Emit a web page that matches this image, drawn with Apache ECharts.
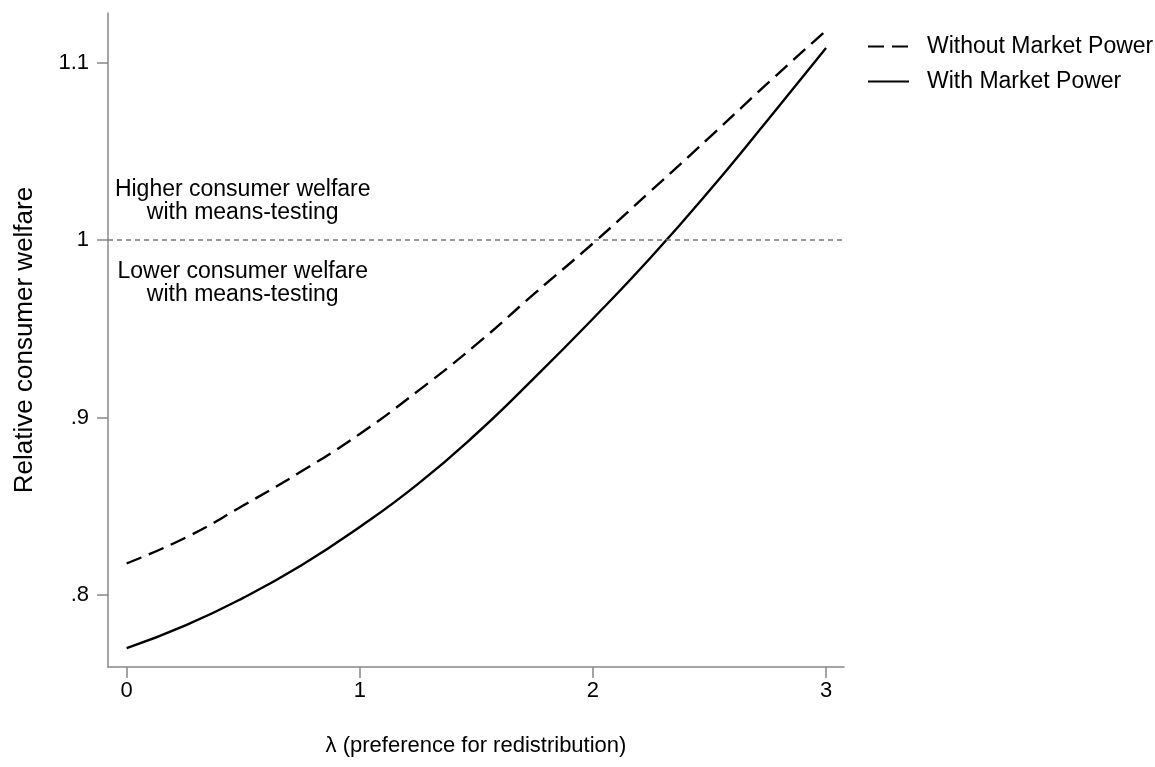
<!DOCTYPE html>
<html>
<head>
<meta charset="utf-8">
<title>Relative consumer welfare</title>
<script src="https://cdn.jsdelivr.net/npm/echarts@6/dist/echarts.min.js"></script>
<style>
  html, body { margin: 0; padding: 0; background: #fff; }
  #chart { width: 1155px; height: 767px; }
</style>
</head>
<body>
<div id="chart"></div>
<script>
// λ grid (preference for redistribution)
const lambda = [0, 0.25, 0.5, 0.75, 1, 1.25, 1.5, 1.75, 2, 2.25, 2.5, 2.75, 3];
// Relative consumer welfare, means-testing vs. universal
const withoutMarketPower = [0.8177, 0.8320, 0.8503, 0.8696, 0.8907, 0.9150, 0.9412, 0.9700, 0.9982, 1.0280, 1.0580, 1.0886, 1.1183];
const withMarketPower    = [0.7698, 0.7825, 0.7982, 0.8166, 0.8382, 0.8625, 0.8908, 0.9225, 0.9557, 0.9905, 1.0280, 1.0678, 1.1084];

const xTicks = [0, 1, 2, 3];
const xTickLabels = ['0', '1', '2', '3'];
const yTicks = [0.8, 0.9, 1, 1.1];
const yTickLabels = ['.8', '.9', '1', '1.1'];

const seriesNames = ['Without Market Power', 'With Market Power'];
const referenceLevel = 1;

// Region notes placed at data coordinates (λ, welfare)
const notes = [
  { x: 0.5, y: 1.0215, text: 'Higher consumer welfare\nwith means-testing' },
  { x: 0.5, y: 0.9755, text: 'Lower consumer welfare\nwith means-testing' }
];

const FONT = "'Liberation Sans', Arial, Helvetica, sans-serif";
const AXIS_GRAY = '#878787';
const INK = '#000';

const pairs = (xs, ys) => xs.map((x, i) => [x, ys[i]]);

const chart = echarts.init(document.getElementById('chart'), null, { renderer: 'canvas' });

chart.setOption({
  animation: false,
  backgroundColor: '#ffffff',
  textStyle: { fontFamily: FONT },
  grid: { left: 108, right: 311, top: 13, bottom: 100, containLabel: false },
  legend: {
    orient: 'vertical',
    left: 867,
    top: 35,
    padding: 0,
    itemWidth: 41,
    itemHeight: 14,
    itemGap: 12,
    data: seriesNames,
    itemStyle: { opacity: 0 },
    textStyle: { fontFamily: FONT, fontSize: 23, color: INK, padding: [0, 0, 0, 13] }
  },
  xAxis: {
    type: 'value',
    min: -0.08,
    max: 3.077,
    name: 'λ (preference for redistribution)',
    nameLocation: 'middle',
    nameGap: 68,
    nameTextStyle: { fontFamily: FONT, fontSize: 22, color: INK },
    axisLine: { show: true, onZero: false, lineStyle: { color: AXIS_GRAY, width: 1.5 } },
    axisTick: { show: true, length: 11, customValues: xTicks, lineStyle: { color: AXIS_GRAY, width: 1.5 } },
    axisLabel: {
      show: true, customValues: xTicks, margin: 13,
      fontFamily: FONT, fontSize: 22, color: INK,
      formatter: v => xTickLabels[xTicks.indexOf(v)]
    },
    splitLine: { show: false }
  },
  yAxis: {
    type: 'value',
    min: 0.7592,
    max: 1.1282,
    name: 'Relative consumer welfare',
    nameLocation: 'middle',
    nameGap: 70,
    nameTextStyle: { fontFamily: FONT, fontSize: 26, color: INK },
    axisLine: { show: true, onZero: false, lineStyle: { color: AXIS_GRAY, width: 1.5 } },
    axisTick: { show: true, length: 11, customValues: yTicks, lineStyle: { color: AXIS_GRAY, width: 1.5 } },
    axisLabel: {
      show: true, customValues: yTicks, margin: 19,
      fontFamily: FONT, fontSize: 22, color: INK,
      formatter: v => yTickLabels[yTicks.findIndex(t => Math.abs(t - v) < 1e-9)]
    },
    splitLine: { show: false }
  },
  series: [
    {
      name: seriesNames[0],
      type: 'line',
      data: pairs(lambda, withoutMarketPower),
      smooth: true,
      symbol: 'none',
      lineStyle: { color: INK, width: 2.4, type: [16, 8] },
      itemStyle: { color: INK },
      z: 3,
      markLine: {
        silent: true,
        symbol: 'none',
        label: { show: false },
        lineStyle: { color: '#777777', width: 1.5, type: [5, 4] },
        data: [{ yAxis: referenceLevel }]
      }
    },
    {
      name: seriesNames[1],
      type: 'line',
      data: pairs(lambda, withMarketPower),
      smooth: true,
      symbol: 'none',
      lineStyle: { color: INK, width: 2.4, type: 'solid' },
      itemStyle: { color: INK },
      z: 3
    },
    {
      name: 'notes',
      type: 'scatter',
      data: notes.map(n => ({ value: [n.x, n.y], label: { formatter: n.text } })),
      symbolSize: 1,
      itemStyle: { color: 'rgba(0,0,0,0)', opacity: 1 },
      silent: true,
      label: {
        show: true,
        position: [0, 0],
        align: 'center',
        verticalAlign: 'middle',
        fontFamily: FONT,
        fontSize: 23,
        lineHeight: 23,
        color: INK,
        opacity: 1
      }
    }
  ]
});
</script>
</body>
</html>
